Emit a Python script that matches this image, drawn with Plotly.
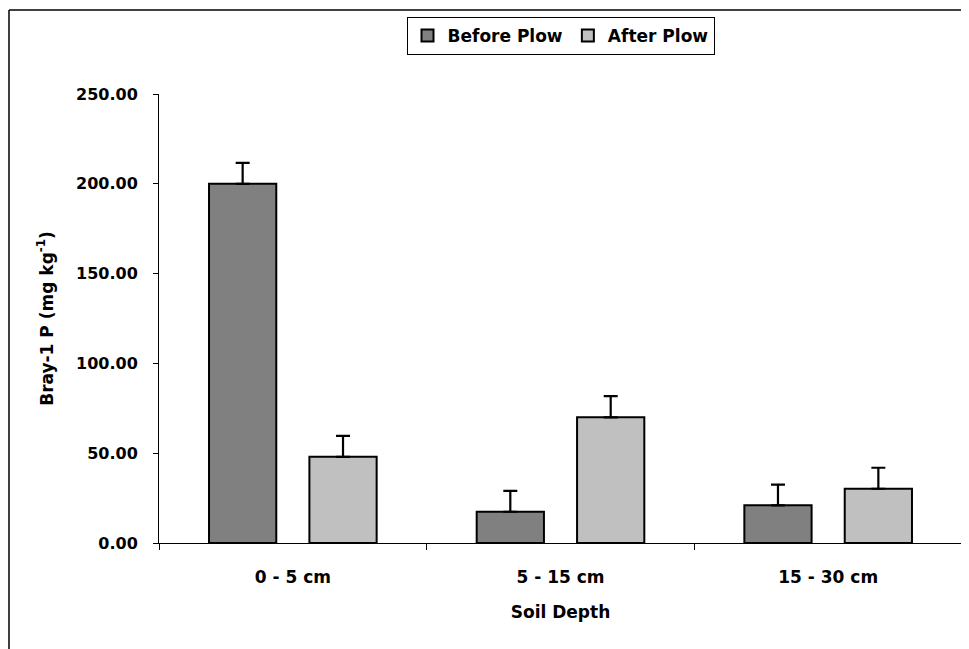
import plotly.graph_objects as go

categories = ["0 - 5 cm", "5 - 15 cm", "15 - 30 cm"]
before_plow = [200.0, 17.4, 21.0]
after_plow = [48.0, 70.0, 30.2]
before_err = [11.6, 11.6, 11.5]
after_err = [11.6, 11.8, 11.7]
y_ticks = [0, 50, 100, 150, 200, 250]

FONT = "DejaVu Sans, Arial, sans-serif"

fig = go.Figure()
fig.add_trace(go.Bar(
    name="Before Plow", x=categories, y=before_plow,
    marker=dict(color="#808080", line=dict(color="black", width=2)),
    error_y=dict(type="data", array=before_err, arrayminus=[0, 0, 0], symmetric=False,
                 color="black", thickness=2.2, width=7),
))
fig.add_trace(go.Bar(
    name="After Plow", x=categories, y=after_plow,
    marker=dict(color="#C0C0C0", line=dict(color="black", width=2)),
    error_y=dict(type="data", array=after_err, arrayminus=[0, 0, 0], symmetric=False,
                 color="black", thickness=2.2, width=7),
))

# page has an 8px body margin; figure is sized to fill the rest of the window
OFF = 8
W, H = 969 - OFF, 649 - OFF
L, T = 159 - OFF, 94 - OFF
R, B = 7, 106
pw, ph = W - L - R, H - T - B

def px_x(px):
    return (px - OFF - L) / pw

def px_y(py):
    return (H - B - (py - OFF)) / ph

fig.update_layout(
    width=W, height=H,
    margin=dict(l=L, r=R, t=T, b=B, pad=0),
    paper_bgcolor="white", plot_bgcolor="white",
    barmode="group", bargap=0.25, bargroupgap=0.33,
    font=dict(family=FONT, size=17, color="black", weight="bold"),
    showlegend=True,
    legend=dict(
        orientation="h", x=0.5, xanchor="center",
        y=px_y(17), yanchor="top",
        bordercolor="black", borderwidth=1, bgcolor="white",
        font=dict(family=FONT, size=17, color="black", weight="bold"),
        itemwidth=30, traceorder="normal",
    ),
    xaxis=dict(
        showline=True, linecolor="black", linewidth=1,
        ticks="outside", ticklen=6, tickcolor="black", tickson="boundaries",
        showgrid=False, zeroline=False, automargin=False,
        tickfont=dict(family=FONT, size=17, color="black", weight="bold"),
        ticklabelstandoff=19,
        title=dict(text="Soil Depth", standoff=19,
                   font=dict(family=FONT, size=17, color="black", weight="bold")),
    ),
    yaxis=dict(
        range=[0, 250], tickvals=y_ticks, tickformat=".2f",
        showline=True, linecolor="black", linewidth=1,
        ticks="outside", ticklen=5, tickcolor="black",
        showgrid=False, zeroline=False, automargin=False,
        tickfont=dict(family=FONT, size=16, color="black", weight="bold"),
        ticklabelstandoff=12,
        title=dict(text="Bray-1 P (mg kg<sup>-1</sup>)", standoff=18,
                   font=dict(family=FONT, size=17, color="black", weight="bold")),
    ),
    shapes=[
        dict(type="line", xref="paper", yref="paper",
             x0=px_x(9), x1=px_x(1000), y0=px_y(10), y1=px_y(10),
             line=dict(color="black", width=1.5)),
        dict(type="line", xref="paper", yref="paper",
             x0=px_x(9), x1=px_x(9), y0=px_y(10), y1=px_y(700),
             line=dict(color="black", width=1.5)),
    ],
)

fig.write_html("out.html")
